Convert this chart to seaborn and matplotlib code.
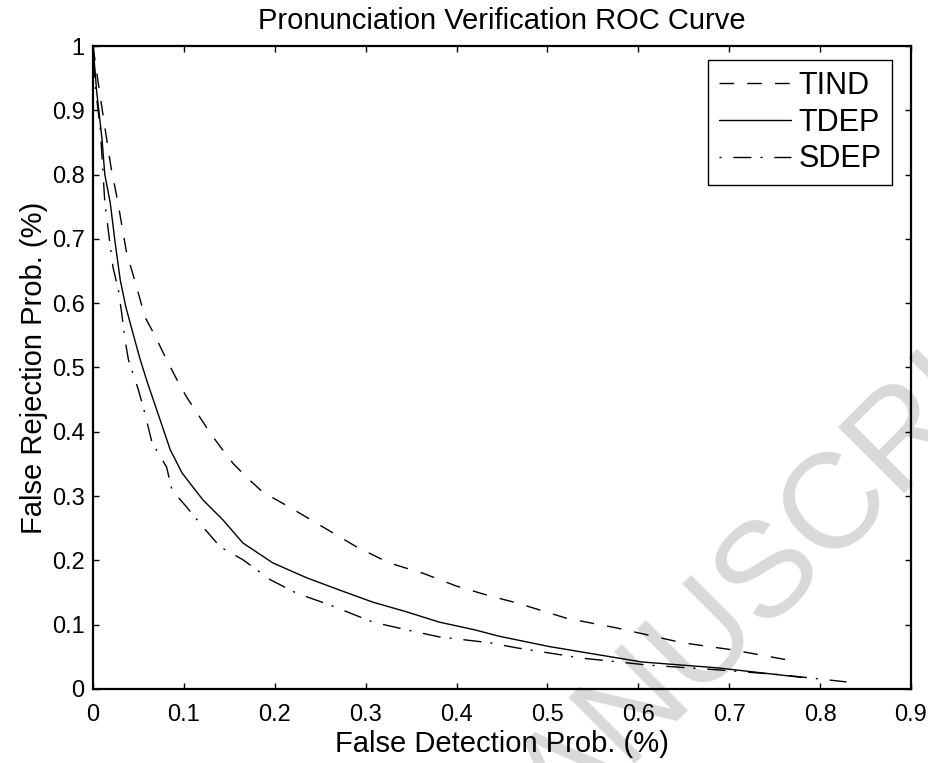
import numpy as np
import pandas as pd
import matplotlib
matplotlib.use("Agg")
import matplotlib.pyplot as plt
import seaborn as sns

# values
tind_x = [0.0, 0.005, 0.013, 0.020, 0.027, 0.037, 0.045, 0.052, 0.057, 0.068, 0.081, 0.092,
          0.103, 0.116, 0.129, 0.141, 0.154, 0.170, 0.187, 0.216, 0.253, 0.290, 0.326, 0.363,
          0.400, 0.436, 0.466, 0.521, 0.576, 0.648, 0.703, 0.765]
tind_y = [1.0, 0.95, 0.874, 0.81, 0.76, 0.678, 0.64, 0.605, 0.579, 0.55, 0.512, 0.482,
          0.454, 0.426, 0.398, 0.375, 0.351, 0.328, 0.306, 0.283, 0.252, 0.221, 0.196, 0.180,
          0.160, 0.145, 0.134, 0.110, 0.095, 0.072, 0.061, 0.045]

tdep_x = [0.0, 0.004, 0.010, 0.013, 0.019, 0.024, 0.030, 0.036, 0.044, 0.052, 0.060, 0.074,
          0.085, 0.098, 0.110, 0.121, 0.143, 0.165, 0.198, 0.235, 0.271, 0.308, 0.345, 0.381,
          0.420, 0.447, 0.502, 0.557, 0.604, 0.686, 0.730, 0.780]
tdep_y = [1.0, 0.93, 0.854, 0.80, 0.756, 0.698, 0.636, 0.595, 0.553, 0.512, 0.476, 0.418,
          0.372, 0.336, 0.314, 0.294, 0.263, 0.227, 0.196, 0.173, 0.154, 0.135, 0.120, 0.104,
          0.092, 0.082, 0.066, 0.053, 0.042, 0.033, 0.026, 0.018]

sdep_x = [0.0, 0.003, 0.008, 0.013, 0.018, 0.022, 0.028, 0.032, 0.035, 0.039, 0.050, 0.057,
          0.065, 0.081, 0.087, 0.103, 0.121, 0.140, 0.165, 0.195, 0.224, 0.260, 0.308, 0.345,
          0.381, 0.436, 0.466, 0.538, 0.612, 0.686, 0.758, 0.829]
sdep_y = [1.0, 0.93, 0.872, 0.757, 0.70, 0.656, 0.62, 0.580, 0.545, 0.512, 0.465, 0.429,
          0.383, 0.345, 0.309, 0.283, 0.252, 0.221, 0.201, 0.170, 0.149, 0.131, 0.104, 0.092,
          0.081, 0.072, 0.064, 0.048, 0.037, 0.030, 0.022, 0.011]

x_ticks = [0, 0.1, 0.2, 0.3, 0.4, 0.5, 0.6, 0.7, 0.8, 0.9]
x_ticklabels = ["0", "0.1", "0.2", "0.3", "0.4", "0.5", "0.6", "0.7", "0.8", "0.9"]
y_ticks = [0, 0.1, 0.2, 0.3, 0.4, 0.5, 0.6, 0.7, 0.8, 0.9, 1.0]
y_ticklabels = ["0", "0.1", "0.2", "0.3", "0.4", "0.5", "0.6", "0.7", "0.8", "0.9", "1"]

curves = [
    ("TIND", tind_x, tind_y, (0, (10.5, 9.5))),
    ("TDEP", tdep_x, tdep_y, "-"),
    ("SDEP", sdep_x, sdep_y, (0, (1.5, 8.5, 13, 6.5))),
]

sns.set_style("ticks")
plt.rcParams['font.family'] = ['Liberation Sans', 'DejaVu Sans']
plt.rcParams['text.color'] = 'black'
plt.rcParams['axes.labelcolor'] = 'black'

fig = plt.figure(figsize=(9.29, 7.63), dpi=100)
ax = fig.add_axes([0.1001, 0.0970, 0.8805, 0.8427])
ax.patch.set_alpha(0)

# faint watermark behind everything
fig.text(0.540, -0.110, "ACCEPTED MANUSCRIPT", fontsize=97, color="#d9d9d9",
         rotation=45, rotation_mode="anchor", ha="center", va="center", zorder=-5)

for name, xs, ys, ls in curves:
    df = pd.DataFrame({"x": xs, "y": ys})
    sns.lineplot(data=df, x="x", y="y", ax=ax, color="black", lw=1.0,
                 linestyle=ls, label=name, sort=False, estimator=None)

ax.set_xlim(0, 0.9)
ax.set_ylim(0, 1)
ax.set_xticks(x_ticks)
ax.set_xticklabels(x_ticklabels)
ax.set_yticks(y_ticks)
ax.set_yticklabels(y_ticklabels)
ax.tick_params(direction="in", length=4.5, width=1.0, top=True, right=True,
               labelsize=17, colors="black")
ax.tick_params(axis="x", pad=11)
ax.tick_params(axis="y", pad=6)
for sp in ax.spines.values():
    sp.set_visible(True)
    sp.set_linewidth(1.6)
    sp.set_color("black")

ax.set_xlabel("False Detection Prob. (%)", fontsize=21, labelpad=3)
ax.set_ylabel("False Rejection Prob. (%)", fontsize=21, labelpad=3)
ax.set_title("Pronunciation Verification ROC Curve", fontsize=21, pad=12, color="black")

leg = ax.legend(loc="upper right", bbox_to_anchor=(0.9768, 0.978), borderaxespad=0,
                fontsize=22, handlelength=2.35, handletextpad=0.25, labelspacing=0.22,
                borderpad=0.35, fancybox=False, framealpha=1, edgecolor="black")
leg.get_frame().set_linewidth(1.0)

fig.savefig("out.png", dpi=100)
